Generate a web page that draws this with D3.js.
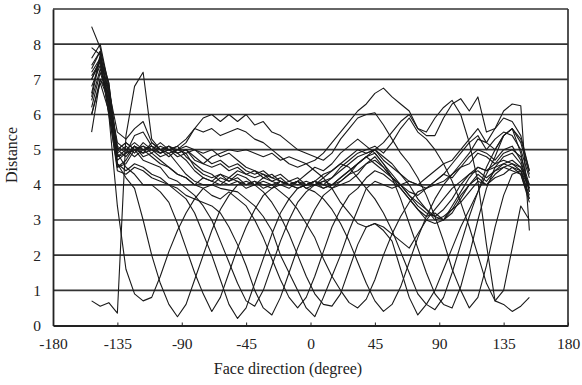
<!DOCTYPE html>
<html><head><meta charset="utf-8">
<script src="https://cdn.jsdelivr.net/npm/d3@7"></script>
<style>body{margin:0;background:#fff}svg{display:block}text{font-family:"Liberation Serif","Times New Roman",serif;fill:#222}</style>
</head><body><svg id="c" width="582" height="385"></svg>
<script>
const angles = d3.range(-153, 154, 6);
const xTicks = [-180, -135, -90, -45, 0, 45, 90, 135, 180];
const yTicks = [0, 1, 2, 3, 4, 5, 6, 7, 8, 9];
const xLabel = "Face direction (degree)";
const yLabel = "Distance";

const c1 = [0.7,0.55,0.65,0.35,5.4,6.8,7.2,5.3,5.0,5.1,4.9,5.0,4.7,
  4.6,4.8,4.9,5.0,4.95,5.0,4.9,4.8,4.9,4.7,4.8,4.7,4.6,
  4.7,4.9,5.2,5.5,5.8,6.1,6.3,6.6,6.75,6.5,6.3,6.1,5.6,
  5.4,5.4,5.9,6.3,6.45,6.1,6.5,5.5,5.6,6.1,6.3,6.25,2.7];
const c2 = [7.0,7.6,6.0,3.4,1.6,0.9,0.7,0.8,1.4,2.1,2.7,3.2,3.6,
  3.9,4.0,4.2,4.1,4.3,4.2,4.0,4.1,4.0,4.1,4.0,3.9,4.0,
  4.1,4.0,4.2,4.4,4.6,4.8,4.9,5.0,4.7,4.5,4.3,4.1,4.0,
  4.2,4.4,4.6,4.7,5.0,5.3,5.6,5.2,5.0,5.4,5.6,4.9,3.8];
const c3 = [6.2,7.2,6.4,4.6,4.2,3.9,3.0,2.0,1.2,0.6,0.25,0.6,1.3,
  2.0,2.7,3.3,3.7,4.0,4.1,4.0,4.2,4.1,4.0,3.9,4.1,4.0,
  4.0,3.9,4.0,4.2,4.4,4.6,4.8,4.9,4.6,4.3,4.0,3.8,3.7,
  3.9,4.1,4.3,4.2,4.5,4.6,4.9,4.8,4.6,4.9,5.0,4.8,4.0];
const c4 = [5.5,7.0,6.6,4.9,4.5,4.3,4.0,4.0,3.8,3.5,2.9,2.2,1.5,
  0.9,0.4,0.8,1.5,2.2,2.8,3.3,3.7,3.9,4.1,4.0,3.9,4.0,
  4.1,4.0,3.9,4.1,4.3,4.6,4.8,4.6,4.4,4.2,3.9,3.6,3.3,
  3.1,3.2,3.0,3.4,3.8,4.2,4.5,4.4,4.5,4.6,4.7,4.5,3.9];
const c5 = [6.8,7.4,6.2,4.6,4.4,4.6,4.5,4.3,4.2,4.0,3.8,3.6,3.2,
  2.6,2.0,1.3,0.6,0.2,0.5,1.2,1.9,2.6,3.2,3.6,3.9,4.0,
  4.1,3.9,4.0,4.1,4.3,4.4,4.6,4.8,4.5,4.2,4.0,3.7,3.4,
  3.2,3.1,3.3,3.6,4.0,4.3,4.4,4.2,4.4,4.5,4.4,4.3,3.6];
const c6 = [7.4,7.8,6.3,4.8,4.9,5.0,4.7,4.6,4.5,4.2,4.1,3.9,3.7,
  3.4,3.0,2.4,1.8,1.2,0.7,0.55,1.0,1.7,2.4,3.0,3.5,3.8,
  4.0,4.1,4.0,4.2,4.4,4.6,4.8,5.0,4.8,4.6,4.3,4.0,3.6,
  3.3,3.1,3.0,3.2,3.6,4.0,4.2,4.0,4.3,4.5,4.6,4.4,3.7];
const c7 = [6.0,6.9,6.1,4.4,4.3,4.5,4.4,4.2,4.1,4.0,3.9,3.7,3.6,
  3.5,3.4,3.2,2.8,2.3,1.7,1.0,0.5,0.3,0.8,1.5,2.2,2.8,
  3.3,3.7,3.9,4.0,4.1,4.3,4.6,4.7,4.5,4.2,4.0,3.7,3.5,
  3.3,3.0,3.1,3.3,3.5,3.8,4.1,4.0,4.2,4.3,4.5,4.3,3.5];
const c8 = [6.6,7.7,6.5,5.1,4.9,5.1,4.8,4.9,4.7,4.5,4.3,4.2,4.0,
  3.9,3.7,3.6,3.8,3.6,3.4,3.0,2.5,1.9,1.3,0.8,0.5,0.8,
  1.4,2.1,2.8,3.3,3.7,3.9,4.2,4.4,4.3,4.1,3.9,3.6,3.3,
  3.0,2.9,3.0,3.3,3.7,4.0,4.3,4.1,4.4,4.6,4.5,4.4,3.9];
const c9 = [7.1,7.5,6.7,4.5,4.6,5.0,4.9,5.0,4.8,4.9,4.6,4.3,4.1,
  4.0,4.0,3.9,3.85,3.8,3.6,3.4,3.1,2.7,2.0,1.5,1.0,0.5,
  0.25,0.8,1.4,2.0,2.7,3.3,3.9,4.1,4.0,3.9,4.0,4.1,4.0,
  3.9,4.0,4.1,4.3,4.5,4.8,5.0,4.9,4.7,5.0,5.1,4.7,3.8];
const c10 = [7.6,8.0,6.8,5.0,5.2,5.0,5.1,4.9,5.1,5.0,5.1,4.8,4.6,
  4.4,4.3,4.1,4.0,4.1,3.9,4.0,3.8,3.5,3.1,2.6,2.0,1.4,
  0.9,0.6,0.55,0.9,1.6,2.3,2.8,2.9,2.8,2.6,2.4,2.2,2.6,
  3.0,3.3,3.6,3.9,4.1,4.3,4.5,4.4,4.6,4.7,4.6,4.5,4.0];
const c11 = [6.4,7.3,6.5,5.2,5.0,5.2,5.0,5.1,4.9,5.0,4.8,4.9,4.5,
  4.3,4.2,4.3,4.1,4.2,4.0,4.1,3.9,4.0,3.8,3.6,3.3,2.9,
  2.5,1.9,1.4,1.0,0.65,0.5,0.75,1.3,2.0,2.6,3.1,3.5,3.8,
  3.9,4.1,4.3,4.6,4.9,5.2,5.4,5.0,5.3,5.5,5.4,5.0,4.2];
const c12 = [7.2,7.6,6.2,4.9,5.1,4.9,5.2,5.0,4.9,5.1,5.0,4.9,5.0,
  4.9,5.0,4.8,4.9,4.7,4.5,4.4,4.3,4.2,4.1,4.0,4.1,3.9,
  3.8,3.6,3.3,2.9,2.4,1.8,1.2,0.7,0.4,0.6,1.1,1.8,2.5,
  3.1,3.6,4.0,4.3,4.6,4.9,5.3,5.2,5.6,5.9,5.8,5.4,4.4];
const c13 = [6.0,7.0,6.4,4.7,4.9,5.4,5.5,5.1,5.0,4.9,5.0,5.2,5.6,
  5.5,5.6,5.4,5.5,5.6,5.5,5.3,5.2,5.0,4.8,4.6,4.5,4.6,
  4.4,4.2,3.9,3.5,3.2,2.9,2.8,2.9,2.7,2.4,1.6,0.8,0.3,
  0.6,1.0,1.6,2.2,2.8,3.3,3.8,4.3,4.8,5.4,5.6,5.2,4.3];
const c14 = [7.9,7.7,6.6,5.0,4.8,5.1,4.9,5.2,5.0,4.8,5.0,5.1,5.0,
  4.8,4.6,4.7,4.5,4.6,4.4,4.3,4.4,4.2,4.3,4.1,4.2,4.0,
  4.1,4.3,4.4,4.6,4.5,4.2,3.9,3.6,3.2,2.7,2.1,1.5,0.9,
  0.6,0.45,0.8,1.5,2.3,3.1,3.8,4.5,5.0,5.4,5.6,5.3,4.4];
const c15 = [7.3,7.8,6.9,4.8,5.0,4.8,5.0,5.1,4.9,5.0,4.9,4.7,4.4,
  4.2,4.1,4.3,4.2,4.4,4.3,4.4,4.2,4.3,4.1,4.0,4.1,4.3,
  4.5,4.4,4.6,4.9,5.1,5.3,5.1,4.9,4.6,4.2,3.6,2.9,2.2,
  1.5,0.9,0.6,0.5,1.1,2.0,3.0,3.9,4.5,4.8,4.9,4.6,3.9];
const c16 = [6.5,7.6,6.9,5.0,5.2,5.0,5.1,5.0,5.2,5.0,5.1,5.3,5.6,
  5.9,6.0,5.8,6.0,5.8,6.0,5.7,5.8,5.5,5.4,5.2,5.0,4.9,
  4.8,4.7,4.9,5.3,5.6,5.9,6.0,6.05,5.7,5.3,4.9,4.6,4.2,
  3.7,3.1,2.4,1.6,1.0,0.5,0.8,1.7,2.8,3.7,4.3,4.4,3.6];
const c17 = [7.0,7.5,6.0,4.5,4.7,5.1,5.0,4.8,4.6,4.5,4.3,4.2,4.0,
  4.2,4.1,4.0,4.2,4.1,4.0,4.1,4.0,3.9,4.0,4.1,4.0,4.1,
  4.0,4.1,4.2,4.5,4.7,4.9,5.0,5.1,4.9,5.2,5.6,5.9,5.5,
  5.3,5.0,4.6,4.1,3.5,2.8,2.0,1.2,0.7,1.0,2.2,3.4,3.0];
const c18 = [8.5,7.9,6.7,5.5,5.3,5.6,5.8,5.2,5.0,5.1,4.9,5.0,4.8,
  4.6,4.5,4.6,4.4,4.5,4.3,4.2,4.3,4.1,4.2,4.0,4.1,3.9,
  4.0,4.2,4.4,4.6,4.8,5.0,4.9,5.0,5.2,5.5,5.8,6.0,5.6,
  5.5,5.9,6.2,6.4,6.0,5.2,4.1,2.3,0.7,0.6,0.4,0.55,0.8];

const series = [c1,c2,c3,c4,c5,c6,c7,c8,c9,c10,c11,c12,c13,c14,c15,c16,c17,c18];

const svg = d3.select("#c");
const x = d3.scaleLinear().domain([-180, 180]).range([53, 568]);
const y = d3.scaleLinear().domain([0, 9]).range([325.5, 9]);

svg.append("g").selectAll("line").data(yTicks.filter(d => d > 0)).join("line")
  .attr("x1", x(-180)).attr("x2", x(180))
  .attr("y1", d => y(d)).attr("y2", d => y(d))
  .attr("stroke", "#333").attr("stroke-width", 1.7);
svg.append("line").attr("x1", x(180)).attr("x2", x(180)).attr("y1", y(9)).attr("y2", y(0))
  .attr("stroke", "#333").attr("stroke-width", 1.7);

const line = d3.line().x((d, i) => x(angles[i])).y(d => y(d));
svg.append("g").selectAll("path").data(series).join("path")
  .attr("d", line).attr("fill", "none").attr("stroke", "#1a1a1a")
  .attr("stroke-width", 1.1).attr("stroke-linejoin", "round");

const xAxis = d3.axisBottom(x).tickValues(xTicks).tickSizeInner(-3).tickSizeOuter(0).tickPadding(12)
  .tickFormat(d => d < 0 ? "-" + Math.abs(d) : String(d));
const gx = svg.append("g").attr("transform", `translate(0,${y(0)})`).call(xAxis);
gx.select(".domain").attr("stroke", "#222").attr("stroke-width", 1.8);
gx.selectAll(".tick line").attr("stroke", "#222");
gx.selectAll("text").style("font-size", "15.5px").style("font-family", '"Liberation Serif",serif').attr("fill", "#222");

const yAxis = d3.axisLeft(y).tickValues(yTicks).tickSize(0).tickPadding(12);
const gy = svg.append("g").attr("transform", `translate(${x(-180)},0)`).call(yAxis);
gy.select(".domain").attr("stroke", "#222").attr("stroke-width", 1.8);
gy.selectAll("text").style("font-size", "15.5px").style("font-family", '"Liberation Serif",serif').attr("fill", "#222");

svg.append("text").attr("x", 288).attr("y", 374).attr("text-anchor", "middle")
  .style("font-size", "16px").text(xLabel);
svg.append("text").attr("transform", "translate(17,155) rotate(-90)").attr("text-anchor", "middle")
  .style("font-size", "16px").text(yLabel);
</script></body></html>
